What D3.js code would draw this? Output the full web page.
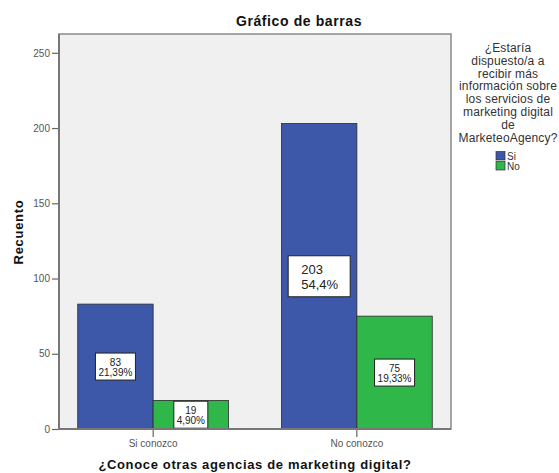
<!DOCTYPE html>
<html>
<head>
<meta charset="utf-8">
<script src="https://cdn.jsdelivr.net/npm/d3@7"></script>
<style>
  html, body { margin: 0; padding: 0; background: #fff; }
  svg { display: block; font-family: "Liberation Sans", Arial, sans-serif; }
</style>
</head>
<body>
<svg id="chart" width="559" height="473"></svg>
<script>
// Categories (x axis) and grouping series
const categories = ["Si conozco", "No conozco"];
const seriesNames = ["Si", "No"];
const seriesColors = ["#3d57a9", "#2fb74a"];

// Counts per series, one value per category
const siValues = [83, 203];
const noValues = [19, 75];

// Percent labels shown in the boxes
const siPctLabels = ["21,39%", "54,4%"];
const noPctLabels = ["4,90%", "19,33%"];

const yTicks = [0, 50, 100, 150, 200, 250];

const legendTitle = ["¿Estaría", "dispuesto/a a", "recibir más", "información sobre",
  "los servicios de", "marketing digital", "de", "MarketeoAgency?"];

const svg = d3.select("#chart");
const plot = { left: 59, right: 451, top: 34, bottom: 429 };

const x = d3.scaleBand().domain(categories)
  .range([plot.left, plot.right]).paddingInner(0.26).paddingOuter(0.092);
const xs = d3.scaleBand().domain(seriesNames).range([0, x.bandwidth()]);
const y = d3.scaleLinear().domain([0, 262.5]).range([plot.bottom, plot.top]);

// plot background
svg.append("rect")
  .attr("x", plot.left).attr("y", plot.top)
  .attr("width", plot.right - plot.left).attr("height", plot.bottom - plot.top)
  .attr("fill", "#f0f0f0").attr("stroke", "#8a8a8a").attr("stroke-width", 1.5);

// title
svg.append("text").attr("x", 299).attr("y", 26).attr("text-anchor", "middle")
  .attr("font-size", 14).attr("font-weight", "bold").attr("letter-spacing", 0.6)
  .attr("fill", "#111").text("Gráfico de barras");

// bars
const rows = [];
categories.forEach((c, i) => {
  rows.push({ cat: c, s: "Si", v: siValues[i], pct: siPctLabels[i], color: seriesColors[0] });
  rows.push({ cat: c, s: "No", v: noValues[i], pct: noPctLabels[i], color: seriesColors[1] });
});

svg.append("g").selectAll("rect").data(rows).join("rect")
  .attr("x", d => x(d.cat) + xs(d.s))
  .attr("y", d => y(d.v))
  .attr("width", xs.bandwidth())
  .attr("height", d => y(0) - y(d.v))
  .attr("fill", d => d.color)
  .attr("stroke", "#2a2a2a").attr("stroke-width", 0.8);

// value boxes
const boxes = svg.append("g");
rows.forEach(d => {
  const cx = x(d.cat) + xs(d.s) + xs.bandwidth() / 2;
  const cy = y(d.v / 2);
  const big = d.v > 150;
  const w = big ? 62 : (d.v < 25 ? 34 : 40);
  const h = big ? 41 : 27;
  const g = boxes.append("g");
  g.append("rect").attr("x", cx - w / 2).attr("y", cy - h / 2)
    .attr("width", w).attr("height", h)
    .attr("fill", "#fff").attr("stroke", "#222").attr("stroke-width", 1);
  const fs = big ? 13 : 10;
  const tx = big ? cx - w / 2 + 13 : cx;
  const anchor = big ? "start" : "middle";
  g.append("text").attr("x", tx).attr("y", cy - (big ? 2 : 1)).attr("text-anchor", anchor)
    .attr("font-size", fs).attr("fill", "#222").text(d.v);
  g.append("text").attr("x", tx).attr("y", cy + (big ? 13 : 9)).attr("text-anchor", anchor)
    .attr("font-size", fs).attr("fill", "#222").text(d.pct);
});

// y axis
const yAxis = svg.append("g").attr("transform", `translate(${plot.left},0)`)
  .call(d3.axisLeft(y).tickValues(yTicks).tickSize(7).tickSizeOuter(0).tickPadding(2));
yAxis.select(".domain").remove();
yAxis.selectAll(".tick line").attr("stroke", "#666").attr("stroke-width", 1.2);
yAxis.selectAll(".tick text").attr("font-size", 10).attr("fill", "#555")
  .attr("font-family", "Liberation Sans, Arial, sans-serif");
svg.append("line").attr("x1", plot.left).attr("x2", plot.left)
  .attr("y1", plot.top).attr("y2", plot.bottom + 1)
  .attr("stroke", "#777").attr("stroke-width", 2);

// x axis
const xAxis = svg.append("g").attr("transform", `translate(0,${plot.bottom})`)
  .call(d3.axisBottom(x).tickSize(8).tickSizeOuter(0).tickPadding(3));
xAxis.select(".domain").remove();
xAxis.selectAll(".tick line").attr("stroke", "#444").attr("stroke-width", 1);
xAxis.selectAll(".tick text").attr("font-size", 10).attr("fill", "#555")
  .attr("font-family", "Liberation Sans, Arial, sans-serif");
svg.append("line").attr("x1", plot.left - 1).attr("x2", plot.right)
  .attr("y1", plot.bottom).attr("y2", plot.bottom)
  .attr("stroke", "#777").attr("stroke-width", 2);

// axis titles
svg.append("text").attr("transform", "translate(22.5,232) rotate(-90)")
  .attr("text-anchor", "middle").attr("font-size", 13).attr("font-weight", "bold")
  .attr("letter-spacing", 0.7).attr("fill", "#111").text("Recuento");
svg.append("text").attr("x", 255).attr("y", 469).attr("text-anchor", "middle")
  .attr("font-size", 13).attr("font-weight", "bold").attr("letter-spacing", 0.65)
  .attr("fill", "#111").text("¿Conoce otras agencias de marketing digital?");

// legend
const lg = svg.append("g");
legendTitle.forEach((t, i) => {
  lg.append("text").attr("x", 508).attr("y", 52 + i * 12.8)
    .attr("text-anchor", "middle").attr("font-size", 12).attr("letter-spacing", 0.15)
    .attr("fill", "#333").text(t);
});
seriesNames.forEach((s, i) => {
  lg.append("rect").attr("x", 496).attr("y", 151.5 + i * 10)
    .attr("width", 9).attr("height", 8.5)
    .attr("fill", seriesColors[i]).attr("stroke", "#333").attr("stroke-width", 0.7);
  lg.append("text").attr("x", 507).attr("y", 160 + i * 10)
    .attr("font-size", 10).attr("fill", "#333").text(s);
});
</script>
</body>
</html>
